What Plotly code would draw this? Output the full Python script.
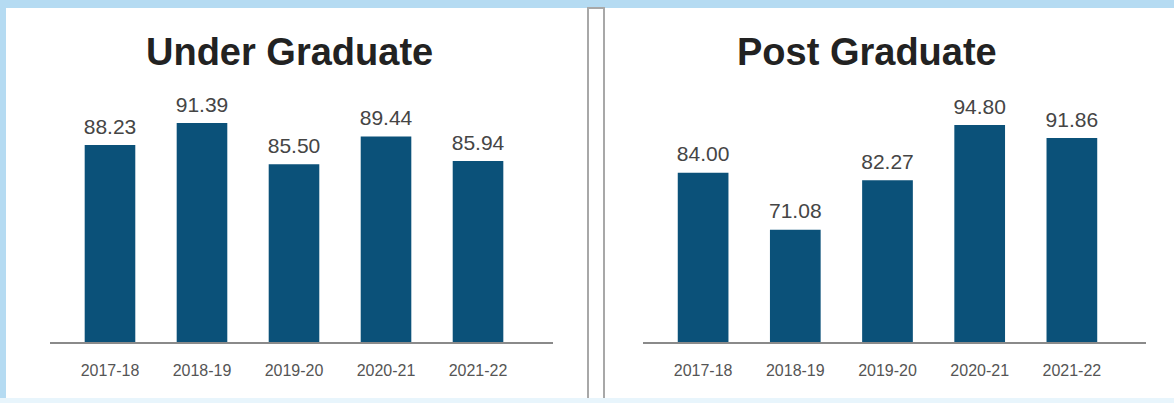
import plotly.graph_objects as go

years = ["2017-18", "2018-19", "2019-20", "2020-21", "2021-22"]
ug_values = [88.23, 91.39, 85.50, 89.44, 85.94]
pg_values = [84.00, 71.08, 82.27, 94.80, 91.86]
titles = ["Under Graduate", "Post Graduate"]

W, H = 1174, 403
BAR = "#0b5179"
FONT = "Liberation Sans, Arial, sans-serif"

def px(x):
    return x / W

def py(y):
    return 1 - y / H

fig = go.Figure()

for i, vals in enumerate([ug_values, pg_values]):
    xa = "x" if i == 0 else "x2"
    ya = "y" if i == 0 else "y2"
    fig.add_trace(go.Bar(
        x=years, y=vals, xaxis=xa, yaxis=ya,
        marker=dict(color=BAR, line=dict(width=0)),
        width=0.55,
        hoverinfo="skip",
    ))
    fig.add_trace(go.Scatter(
        x=years, y=vals, xaxis=xa, yaxis=ya,
        mode="markers+text",
        marker=dict(size=8, opacity=0),
        text=[f"{v:.2f}" for v in vals],
        textposition="top center",
        textfont=dict(family=FONT, size=21, color="#454545"),
        cliponaxis=False,
        hoverinfo="skip",
    ))

axis_common = dict(
    showgrid=False, zeroline=False, showline=True, linecolor="#8a8a8a", linewidth=2,
    ticks="", tickfont=dict(family=FONT, size=16, color="#555555"),
    ticklabelstandoff=13, fixedrange=True,
)

y_bot = py(342)
y_top = py(62)

fig.update_layout(
    width=W, height=H,
    margin=dict(l=0, r=0, t=0, b=0),
    paper_bgcolor="#b5dbf2",
    plot_bgcolor="rgba(0,0,0,0)",
    showlegend=False,
    xaxis=dict(domain=[px(50), px(553)], range=[-0.652, 4.815], anchor="y", **axis_common),
    xaxis2=dict(domain=[px(643), px(1146)], range=[-0.652, 4.804], anchor="y2", **axis_common),
    yaxis=dict(domain=[y_bot, y_top], range=[60.1, 100.1], visible=False, fixedrange=True),
    yaxis2=dict(domain=[y_bot, y_top], range=[45.6, 109.1], visible=False, fixedrange=True),
    shapes=[
        dict(type="rect", xref="paper", yref="paper", x0=px(6), x1=px(588), y0=py(398), y1=py(8),
             fillcolor="white", line=dict(width=0), layer="below"),
        dict(type="rect", xref="paper", yref="paper", x0=px(604), x1=1, y0=py(398), y1=py(8),
             fillcolor="white", line=dict(width=0), layer="below"),
        dict(type="rect", xref="paper", yref="paper", x0=px(588), x1=px(604), y0=py(403), y1=py(8),
             fillcolor="white", line=dict(color="#a8a8a8", width=2), layer="below"),
        dict(type="rect", xref="paper", yref="paper", x0=0, x1=1, y0=0, y1=py(398),
             fillcolor="#e8f5fc", line=dict(width=0), layer="below"),
    ],
    annotations=[
        dict(text=f"<b>{titles[0]}</b>", xref="paper", yref="paper", x=px(289), y=py(52),
             showarrow=False, xanchor="center", yanchor="middle",
             font=dict(family=FONT, size=38, color="#222222")),
        dict(text=f"<b>{titles[1]}</b>", xref="paper", yref="paper", x=px(867), y=py(52),
             showarrow=False, xanchor="center", yanchor="middle",
             font=dict(family=FONT, size=38, color="#222222")),
    ],
)

fig.write_html("out.html", config={"displayModeBar": False},
               post_script="document.body.style.margin='0';document.body.style.overflow='hidden';")
